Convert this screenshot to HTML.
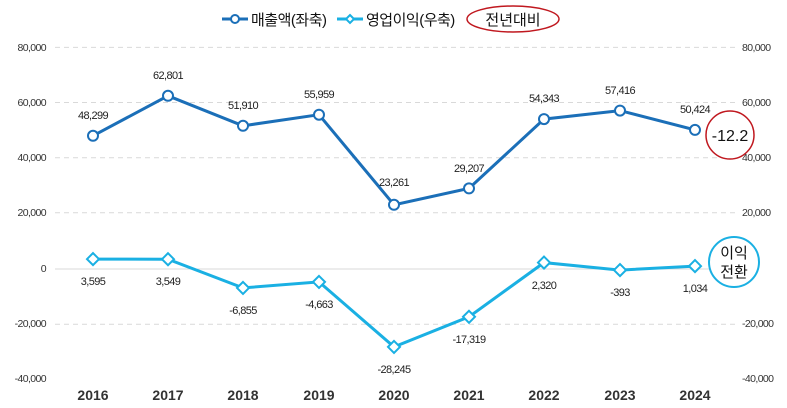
<!DOCTYPE html>
<html><head><meta charset="utf-8"><style>
body{margin:0;background:#fff}
svg{display:block;font-family:"Liberation Sans","Noto Sans CJK KR",sans-serif}
</style></head><body>
<svg width="787" height="408" viewBox="0 0 787 408">
<g stroke="#d9d9d9" stroke-dasharray="5,4" stroke-width="1">
<line x1="55" x2="735" y1="47.4" y2="47.4"/><line x1="55" x2="735" y1="102.5" y2="102.5"/>
<line x1="55" x2="735" y1="157.7" y2="157.7"/><line x1="55" x2="735" y1="212.8" y2="212.8"/>
<line x1="55" x2="735" y1="324.2" y2="324.2"/>
</g>
<line x1="55" x2="735" y1="269" y2="269" stroke="#d9d9d9"/>
<g font-size="10.5" fill="#333" text-anchor="end" letter-spacing="-0.6">
<text x="46" y="51">80,000</text><text x="46" y="106">60,000</text><text x="46" y="161">40,000</text>
<text x="46" y="216">20,000</text><text x="46" y="272">0</text><text x="46" y="327">-20,000</text><text x="46" y="382">-40,000</text>
</g>
<g font-size="10.5" fill="#333" text-anchor="start" letter-spacing="-0.6">
<text x="742" y="51">80,000</text><text x="742" y="106">60,000</text><text x="742" y="161">40,000</text>
<text x="742" y="216">20,000</text><text x="742" y="327">-20,000</text><text x="742" y="382">-40,000</text>
</g>
<g font-size="14" font-weight="bold" fill="#333" text-anchor="middle">
<text x="93" y="400">2016</text><text x="168" y="400">2017</text><text x="243" y="400">2018</text>
<text x="319" y="400">2019</text><text x="394" y="400">2020</text><text x="469" y="400">2021</text>
<text x="544" y="400">2022</text><text x="620" y="400">2023</text><text x="695" y="400">2024</text>
</g>
<polyline fill="none" stroke="#1b6fb8" stroke-width="3" points="93,135.8 168,95.8 243,125.8 319,114.7 394,204.8 469,188.4 544,119.1 620,110.6 695,129.9"/>
<g fill="#fff" stroke="#1b6fb8" stroke-width="2">
<circle cx="93" cy="135.8" r="5"/><circle cx="168" cy="95.8" r="5"/><circle cx="243" cy="125.8" r="5"/>
<circle cx="319" cy="114.7" r="5"/><circle cx="394" cy="204.8" r="5"/><circle cx="469" cy="188.4" r="5"/>
<circle cx="544" cy="119.1" r="5"/><circle cx="620" cy="110.6" r="5"/><circle cx="695" cy="129.9" r="5"/>
</g>
<polyline fill="none" stroke="#1ab0e3" stroke-width="3" points="93,259.1 168,259.2 243,287.9 319,281.9 394,346.9 469,316.8 544,262.6 620,270.1 695,266.1"/>
<g fill="#fff" stroke="#1ab0e3" stroke-width="2">
<path d="M93,253.1l6,6l-6,6l-6,-6z"/><path d="M168,253.2l6,6l-6,6l-6,-6z"/><path d="M243,281.9l6,6l-6,6l-6,-6z"/>
<path d="M319,275.9l6,6l-6,6l-6,-6z"/><path d="M394,340.9l6,6l-6,6l-6,-6z"/><path d="M469,310.8l6,6l-6,6l-6,-6z"/>
<path d="M544,256.6l6,6l-6,6l-6,-6z"/><path d="M620,264.1l6,6l-6,6l-6,-6z"/><path d="M695,260.1l6,6l-6,6l-6,-6z"/>
</g>
<g font-size="11" fill="#222" text-anchor="middle" letter-spacing="-0.6">
<text x="93" y="119">48,299</text><text x="168" y="79">62,801</text><text x="243" y="109">51,910</text>
<text x="319" y="98">55,959</text><text x="394" y="186">23,261</text><text x="469" y="172">29,207</text>
<text x="544" y="102">54,343</text><text x="620" y="94">57,416</text><text x="695" y="113">50,424</text>
<text x="93" y="285">3,595</text><text x="168" y="285">3,549</text><text x="243" y="314">-6,855</text>
<text x="319" y="308">-4,663</text><text x="394" y="373">-28,245</text><text x="469" y="343">-17,319</text>
<text x="544" y="289">2,320</text><text x="620" y="296">-393</text><text x="695" y="292">1,034</text>
</g>
<circle cx="730" cy="135" r="24" fill="#fff" stroke="#c0181f" stroke-width="1.5"/>
<text x="730" y="141" font-size="16" text-anchor="middle" fill="#111">-12.2</text>
<circle cx="734" cy="262" r="25" fill="#fff" stroke="#1ab0e3" stroke-width="2"/>
<text x="734" y="258" font-size="15" text-anchor="middle" fill="#111">이익</text>
<text x="734" y="277" font-size="15" text-anchor="middle" fill="#111">전환</text>
<line x1="222" x2="248" y1="19" y2="19" stroke="#1b6fb8" stroke-width="3"/>
<circle cx="235" cy="19" r="4" fill="#fff" stroke="#1b6fb8" stroke-width="2"/>
<text x="251" y="25" font-size="15" fill="#111" letter-spacing="-0.5">매출액(좌축)</text>
<line x1="337" x2="363" y1="19" y2="19" stroke="#1ab0e3" stroke-width="3"/>
<path d="M350,15l4,4l-4,4l-4,-4z" fill="#fff" stroke="#1ab0e3" stroke-width="2"/>
<text x="366" y="25" font-size="15" fill="#111" letter-spacing="-0.5">영업이익(우축)</text>
<ellipse cx="513" cy="19" rx="46" ry="13" fill="#fff" stroke="#c0181f" stroke-width="1.5"/>
<text x="513" y="25" font-size="15" text-anchor="middle" fill="#111">전년대비</text>
</svg>
</body></html>
